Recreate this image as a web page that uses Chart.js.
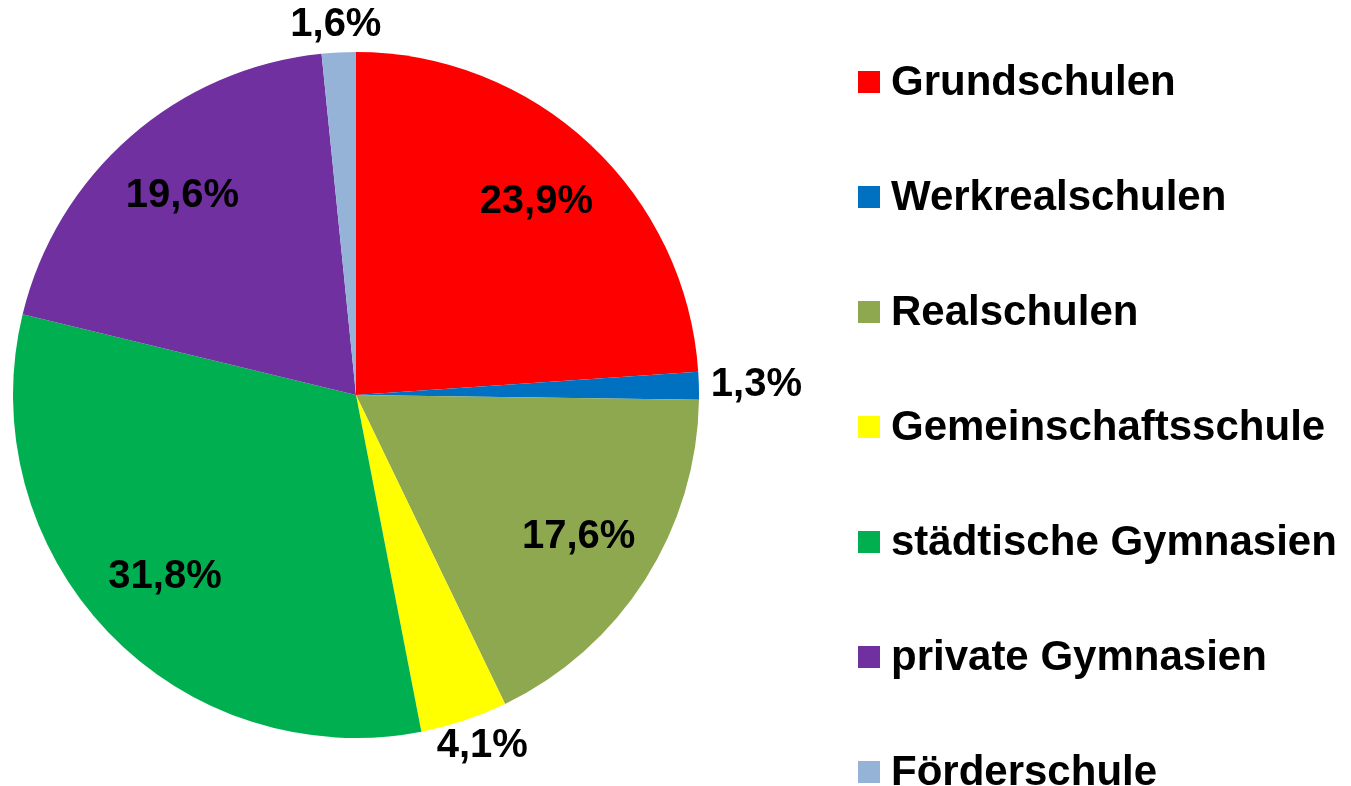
<!DOCTYPE html>
<html>
<head>
<meta charset="utf-8">
<script src="https://cdn.jsdelivr.net/npm/chart.js@4"></script>
<style>
  html, body { margin: 0; padding: 0; background: #fff; }
  #wrap { width: 1351px; height: 786px; position: relative; }
</style>
</head>
<body>
<div id="wrap"><canvas id="chart"></canvas></div>
<script>
const categories = ["Grundschulen", "Werkrealschulen", "Realschulen", "Gemeinschaftsschule", "städtische Gymnasien", "private Gymnasien", "Förderschule"]
const shares = [23.9, 1.3, 17.6, 4.1, 31.8, 19.6, 1.6]
const colors = ["#FF0000", "#0070C0", "#8EA84F", "#FFFF00", "#00B050", "#7030A0", "#95B3D7"]

const fmt = v => v.toFixed(1).replace(".", ",") + "%"

// labels: big slices inside, small ones just outside the rim
const sliceLabels = {
  id: "sliceLabels",
  afterDatasetsDraw(chart) {
    const { ctx } = chart
    const meta = chart.getDatasetMeta(0)
    ctx.save()
    ctx.font = "bold 40px 'Liberation Sans', Arial, sans-serif"
    ctx.fillStyle = "#000"
    ctx.textAlign = "center"
    ctx.textBaseline = "middle"
    meta.data.forEach((arc, i) => {
      const { x, y, startAngle, endAngle, outerRadius } = arc.getProps(["x", "y", "startAngle", "endAngle", "outerRadius"], true)
      const mid = (startAngle + endAngle) / 2
      const c = Math.cos(mid), s = Math.sin(mid)
      const text = fmt(shares[i])
      if (shares[i] >= 10) {
        ctx.fillText(text, x + c * outerRadius * 0.77, y + s * outerRadius * 0.77)
      } else {
        // push the label box away from the rim along the slice direction
        const r = outerRadius + 12
        const w = ctx.measureText(text).width
        const h = 30
        ctx.fillText(text, x + c * r + c * w / 2, y + s * r + s * h / 2)
      }
    })
    ctx.restore()
  }
}

const sideLegend = {
  id: "sideLegend",
  afterDraw(chart) {
    const { ctx } = chart
    ctx.save()
    ctx.font = "bold 42px 'Liberation Sans', Arial, sans-serif"
    ctx.textBaseline = "middle"
    ctx.textAlign = "left"
    categories.forEach((name, i) => {
      const cy = 82 + i * 115
      ctx.fillStyle = colors[i]
      ctx.fillRect(858, cy - 11, 22, 22)
      ctx.fillStyle = "#000"
      ctx.fillText(name, 891, cy + 1)
    })
    ctx.restore()
  }
}

new Chart(document.getElementById("chart"), {
  type: "pie",
  data: {
    labels: categories,
    datasets: [{ data: shares, backgroundColor: colors, borderWidth: 0 }]
  },
  options: {
    responsive: true,
    maintainAspectRatio: false,
    animation: false,
    layout: { padding: { left: 13, right: 652, top: 52, bottom: 48 } },
    plugins: { legend: { display: false }, tooltip: { enabled: false } }
  },
  plugins: [sliceLabels, sideLegend]
})
</script>
</body>
</html>
